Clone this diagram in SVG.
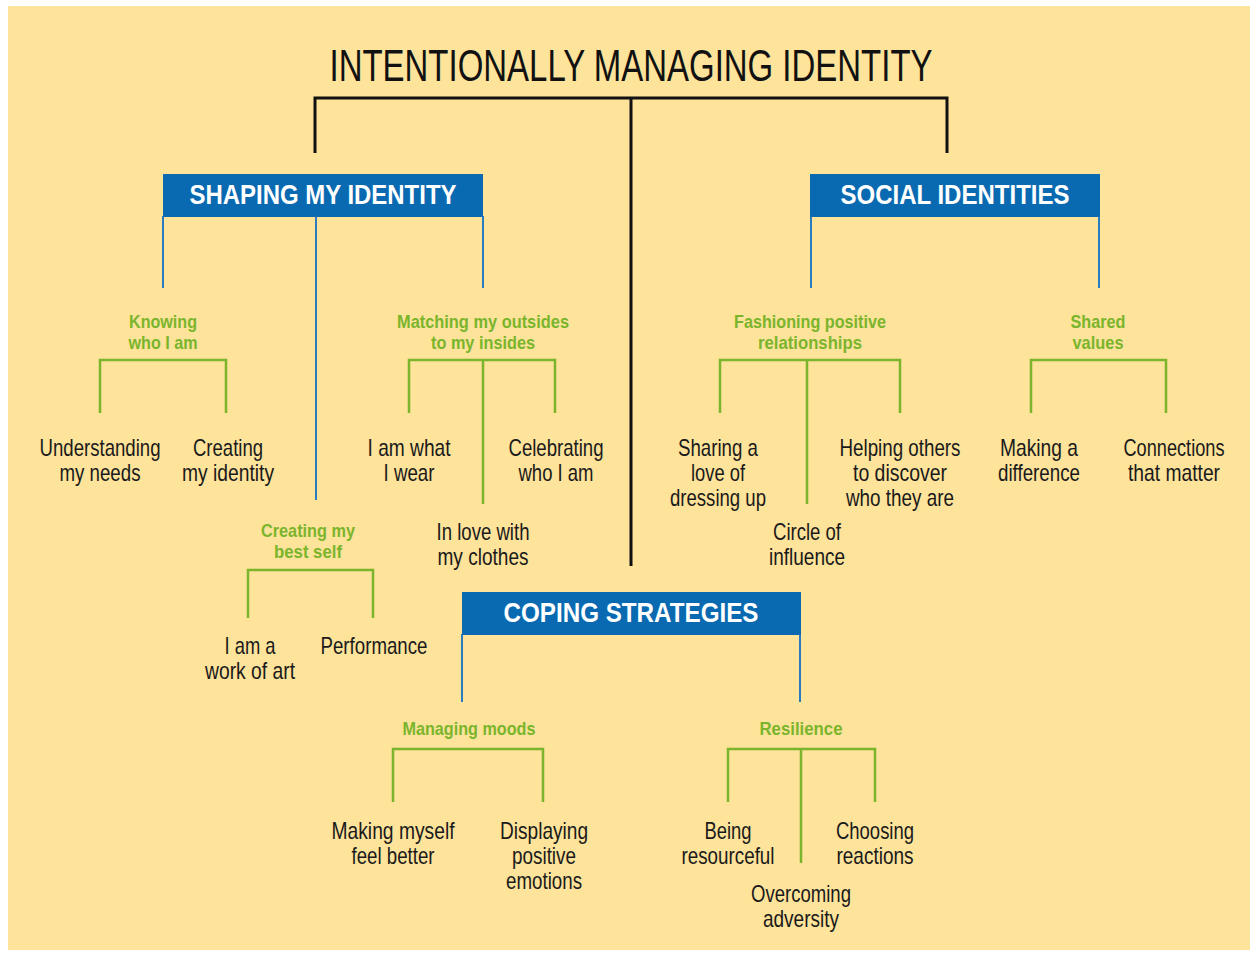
<svg xmlns="http://www.w3.org/2000/svg" width="1258" height="953" viewBox="0 0 1258 953">
<style>
text{font-family:"Liberation Sans",Arial,sans-serif;text-anchor:middle}
.t{font-size:44px;fill:#111}
.h{font-size:28px;font-weight:bold;fill:#fff}
.g{font-size:19px;font-weight:bold;fill:#7ab52b}
.b{font-size:24px;fill:#1a1a1a}
.hb{fill:#0a6ab1}
.k{stroke:#111;stroke-width:3;fill:none}
.bl{stroke:#2a7bc0;stroke-width:2;fill:none}
.gr{stroke:#7ab52b;stroke-width:2.5;fill:none}
</style>
<rect x="8" y="6" width="1242" height="944" fill="#fee39b"/>
<g id="connectors">
<path class="k" d="M315 153V98H947V153M631 98V566"/>
<path class="bl" d="M163 216V288M483 216V288M316 216V500"/>
<path class="bl" d="M811 216V288M1099 216V288"/>
<path class="bl" d="M462 634V702M800 634V702"/>
<path class="gr" d="M100 413V360H226V413"/>
<path class="gr" d="M409 413V360H555V413M483 360V504"/>
<path class="gr" d="M248 618V570H373V618"/>
<path class="gr" d="M720 413V360H900V413M807 360V504"/>
<path class="gr" d="M1031 413V360H1166V413"/>
<path class="gr" d="M393 802V749H543V802"/>
<path class="gr" d="M728 802V749H875V802M801 749V863"/>
</g>
<g id="title"><text class="t" x="631" y="81" textLength="603" lengthAdjust="spacingAndGlyphs">INTENTIONALLY MANAGING IDENTITY</text></g>
<g id="shaping"><rect class="hb" x="163" y="174" width="320" height="43"/><text class="h" x="323" y="204" textLength="267" lengthAdjust="spacingAndGlyphs">SHAPING MY IDENTITY</text></g>
<g id="social"><rect class="hb" x="810" y="174" width="290" height="43"/><text class="h" x="955" y="204" textLength="229" lengthAdjust="spacingAndGlyphs">SOCIAL IDENTITIES</text></g>
<g id="coping"><rect class="hb" x="462" y="592" width="339" height="43"/><text class="h" x="631" y="622" textLength="255" lengthAdjust="spacingAndGlyphs">COPING STRATEGIES</text></g>
<g id="knowing"><text class="g" x="163" y="328" textLength="68" lengthAdjust="spacingAndGlyphs">Knowing</text><text class="g" x="163" y="349" textLength="69" lengthAdjust="spacingAndGlyphs">who I am</text></g>
<g id="matching"><text class="g" x="483" y="328" textLength="172" lengthAdjust="spacingAndGlyphs">Matching my outsides</text><text class="g" x="483" y="349" textLength="104" lengthAdjust="spacingAndGlyphs">to my insides</text></g>
<g id="bestself"><text class="g" x="308" y="537" textLength="94" lengthAdjust="spacingAndGlyphs">Creating my</text><text class="g" x="308" y="558" textLength="68" lengthAdjust="spacingAndGlyphs">best self</text></g>
<g id="fashioning"><text class="g" x="810" y="328" textLength="152" lengthAdjust="spacingAndGlyphs">Fashioning positive</text><text class="g" x="810" y="349" textLength="104" lengthAdjust="spacingAndGlyphs">relationships</text></g>
<g id="shared"><text class="g" x="1098" y="328" textLength="55" lengthAdjust="spacingAndGlyphs">Shared</text><text class="g" x="1098" y="349" textLength="51" lengthAdjust="spacingAndGlyphs">values</text></g>
<g id="moods"><text class="g" x="469" y="735" textLength="133" lengthAdjust="spacingAndGlyphs">Managing moods</text></g>
<g id="resilience"><text class="g" x="801" y="735" textLength="83" lengthAdjust="spacingAndGlyphs">Resilience</text></g>
<g id="understanding"><text class="b" x="100" y="456" textLength="121" lengthAdjust="spacingAndGlyphs">Understanding</text><text class="b" x="100" y="481" textLength="81" lengthAdjust="spacingAndGlyphs">my needs</text></g>
<g id="creating"><text class="b" x="228" y="456" textLength="70" lengthAdjust="spacingAndGlyphs">Creating</text><text class="b" x="228" y="481" textLength="92" lengthAdjust="spacingAndGlyphs">my identity</text></g>
<g id="iamwhat"><text class="b" x="409" y="456" textLength="83" lengthAdjust="spacingAndGlyphs">I am what</text><text class="b" x="409" y="481" textLength="51" lengthAdjust="spacingAndGlyphs">I wear</text></g>
<g id="celebrating"><text class="b" x="556" y="456" textLength="95" lengthAdjust="spacingAndGlyphs">Celebrating</text><text class="b" x="556" y="481" textLength="75" lengthAdjust="spacingAndGlyphs">who I am</text></g>
<g id="inlove"><text class="b" x="483" y="540" textLength="93" lengthAdjust="spacingAndGlyphs">In love with</text><text class="b" x="483" y="565" textLength="91" lengthAdjust="spacingAndGlyphs">my clothes</text></g>
<g id="workofart"><text class="b" x="250" y="654" textLength="51" lengthAdjust="spacingAndGlyphs">I am a</text><text class="b" x="250" y="679" textLength="90" lengthAdjust="spacingAndGlyphs">work of art</text></g>
<g id="performance"><text class="b" x="374" y="654" textLength="107" lengthAdjust="spacingAndGlyphs">Performance</text></g>
<g id="sharing"><text class="b" x="718" y="456" textLength="80" lengthAdjust="spacingAndGlyphs">Sharing a</text><text class="b" x="718" y="481" textLength="54" lengthAdjust="spacingAndGlyphs">love of</text><text class="b" x="718" y="506" textLength="96" lengthAdjust="spacingAndGlyphs">dressing up</text></g>
<g id="circle"><text class="b" x="807" y="540" textLength="68" lengthAdjust="spacingAndGlyphs">Circle of</text><text class="b" x="807" y="565" textLength="76" lengthAdjust="spacingAndGlyphs">influence</text></g>
<g id="helping"><text class="b" x="900" y="456" textLength="121" lengthAdjust="spacingAndGlyphs">Helping others</text><text class="b" x="900" y="481" textLength="94" lengthAdjust="spacingAndGlyphs">to discover</text><text class="b" x="900" y="506" textLength="108" lengthAdjust="spacingAndGlyphs">who they are</text></g>
<g id="making"><text class="b" x="1039" y="456" textLength="78" lengthAdjust="spacingAndGlyphs">Making a</text><text class="b" x="1039" y="481" textLength="82" lengthAdjust="spacingAndGlyphs">difference</text></g>
<g id="connections"><text class="b" x="1174" y="456" textLength="101" lengthAdjust="spacingAndGlyphs">Connections</text><text class="b" x="1174" y="481" textLength="92" lengthAdjust="spacingAndGlyphs">that matter</text></g>
<g id="myself"><text class="b" x="393" y="839" textLength="123" lengthAdjust="spacingAndGlyphs">Making myself</text><text class="b" x="393" y="864" textLength="83" lengthAdjust="spacingAndGlyphs">feel better</text></g>
<g id="displaying"><text class="b" x="544" y="839" textLength="88" lengthAdjust="spacingAndGlyphs">Displaying</text><text class="b" x="544" y="864" textLength="64" lengthAdjust="spacingAndGlyphs">positive</text><text class="b" x="544" y="889" textLength="76" lengthAdjust="spacingAndGlyphs">emotions</text></g>
<g id="being"><text class="b" x="728" y="839" textLength="47" lengthAdjust="spacingAndGlyphs">Being</text><text class="b" x="728" y="864" textLength="93" lengthAdjust="spacingAndGlyphs">resourceful</text></g>
<g id="choosing"><text class="b" x="875" y="839" textLength="78" lengthAdjust="spacingAndGlyphs">Choosing</text><text class="b" x="875" y="864" textLength="77" lengthAdjust="spacingAndGlyphs">reactions</text></g>
<g id="overcoming"><text class="b" x="801" y="902" textLength="100" lengthAdjust="spacingAndGlyphs">Overcoming</text><text class="b" x="801" y="927" textLength="76" lengthAdjust="spacingAndGlyphs">adversity</text></g>
</svg>
